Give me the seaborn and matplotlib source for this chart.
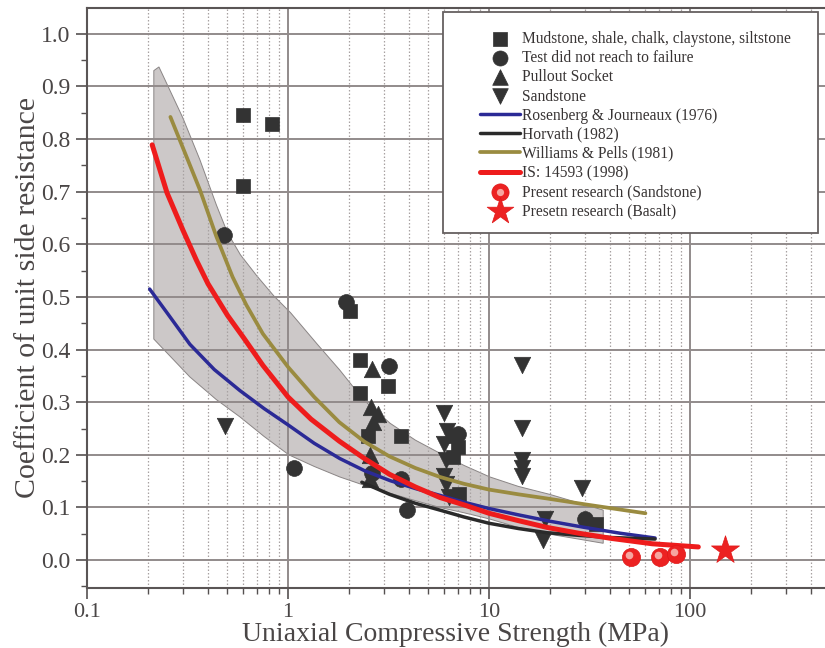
import numpy as np
import matplotlib
matplotlib.use("Agg")
import matplotlib.pyplot as plt
import matplotlib.transforms as mtransforms
from matplotlib.patches import Rectangle
from matplotlib.ticker import LogLocator, FixedLocator, MultipleLocator, FuncFormatter
from matplotlib.legend_handler import HandlerTuple
import seaborn as sns

# ---------------- data ----------------
mud_x = [0.6, 0.83, 0.6, 2.03, 2.28, 2.28, 3.14, 2.5, 3.65, 6.8, 7.0, 6.6, 7.1, 34]
mud_y = [0.846, 0.829, 0.711, 0.473, 0.38, 0.317, 0.331, 0.236, 0.236, 0.235, 0.215, 0.195, 0.125, 0.068]

nofail_x = [0.48, 1.94, 3.18, 1.07, 3.91, 2.62, 3.65, 7.0, 30]
nofail_y = [0.618, 0.49, 0.369, 0.175, 0.095, 0.165, 0.155, 0.24, 0.078]

pullout_x = [2.62, 2.6, 2.8, 2.65, 2.55, 2.55]
pullout_y = [0.363, 0.29, 0.278, 0.262, 0.2, 0.155]

sand_x = [0.486, 6.0, 6.2, 6.0, 6.1, 6.0, 6.1, 6.3, 14.6, 14.6, 14.6, 14.6, 14.6, 29, 19, 18.5]
sand_y = [0.255, 0.28, 0.245, 0.22, 0.19, 0.16, 0.145, 0.12, 0.371, 0.251, 0.19, 0.175, 0.16, 0.137, 0.078, 0.038]

present_sand_x = [51, 71, 85]
present_sand_y = [0.006, 0.006, 0.011]

present_basalt_x = [149]
present_basalt_y = [0.019]

rosenberg_x = [0.205, 0.25, 0.325, 0.43, 0.577, 0.76, 1.0, 1.35, 1.81, 2.4, 3.22, 4.3, 5.7, 7.5, 10, 14, 20, 30, 45, 67]
rosenberg_y = [0.515, 0.47, 0.41, 0.362, 0.322, 0.288, 0.257, 0.222, 0.193, 0.17, 0.151, 0.136, 0.123, 0.11, 0.098, 0.086, 0.074, 0.062, 0.051, 0.042]

horvath_x = [2.33, 3.2, 4.3, 5.7, 7.5, 10, 14, 19.5, 28, 40, 67]
horvath_y = [0.148, 0.125, 0.108, 0.095, 0.082, 0.07, 0.06, 0.052, 0.047, 0.043, 0.04]

williams_x = [0.26, 0.31, 0.365, 0.44, 0.53, 0.62, 0.75, 1.0, 1.35, 1.8, 2.4, 3.2, 4.3, 5.7, 7.5, 10, 14, 19.5, 30, 45, 60]
williams_y = [0.842, 0.77, 0.703, 0.615, 0.538, 0.485, 0.43, 0.367, 0.31, 0.262, 0.225, 0.197, 0.175, 0.158, 0.145, 0.134, 0.125, 0.117, 0.106, 0.096, 0.089]

is14593_x = [0.211, 0.25, 0.30, 0.35, 0.4, 0.5, 0.6, 0.75, 1.0, 1.3, 1.8, 2.4, 3.2, 4.3, 5.7, 7.5, 10, 14, 19.5, 28, 41, 65, 110]
is14593_y = [0.789, 0.698, 0.627, 0.57, 0.525, 0.465, 0.423, 0.37, 0.31, 0.268, 0.226, 0.193, 0.163, 0.139, 0.119, 0.105, 0.089, 0.075, 0.062, 0.051, 0.041, 0.031, 0.025]

band_upper_x = [0.215, 0.228, 0.30, 0.365, 0.44, 0.5, 0.58, 0.7, 0.85, 1.03, 1.4, 1.81, 2.37, 3.22, 4.3, 5.7, 7.5, 10.1, 14, 20, 37]
band_upper_y = [0.93, 0.937, 0.84, 0.76, 0.675, 0.622, 0.58, 0.54, 0.502, 0.47, 0.41, 0.361, 0.305, 0.26, 0.228, 0.203, 0.18, 0.158, 0.14, 0.125, 0.095]
band_lower_x = [0.215, 0.325, 0.44, 0.577, 0.76, 1.01, 1.35, 1.81, 2.4, 3.22, 4.3, 5.7, 7.5, 10.1, 14, 19.5, 37]
band_lower_y = [0.42, 0.348, 0.305, 0.272, 0.235, 0.2, 0.178, 0.158, 0.142, 0.127, 0.113, 0.1, 0.09, 0.078, 0.062, 0.05, 0.032]

x_ticks = [0.1, 1, 10, 100]
x_tick_labels = ["0.1", "1", "10", "100"]
y_ticks = [0.0, 0.1, 0.2, 0.3, 0.4, 0.5, 0.6, 0.7, 0.8, 0.9, 1.0]

labels = ["Mudstone, shale, chalk, claystone, siltstone",
          "Test did not reach to failure",
          "Pullout Socket",
          "Sandstone",
          "Rosenberg & Journeaux (1976)",
          "Horvath (1982)",
          "Williams & Pells (1981)",
          "IS: 14593 (1998)",
          "Present research (Sandstone)",
          "Presetn research (Basalt)"]

# ---------------- style ----------------
sns.set_style("white")
plt.rcParams["font.family"] = ["Liberation Serif", "DejaVu Serif"]

fig = plt.figure(figsize=(8.25, 6.48), dpi=100)
ax = fig.add_axes([87 / 825, 60 / 648, 1 - 87 / 825, 580 / 648])

mk_col = "#333333"
tri_size = 140
sq_size = 110

# confidence band
poly_x = np.concatenate([band_upper_x, band_lower_x[::-1]])
poly_y = np.concatenate([band_upper_y, band_lower_y[::-1]])
ax.fill(poly_x, poly_y, facecolor="#ccc8c8", edgecolor="#8a8585", lw=0.7, zorder=0.3)

# curves
sns.lineplot(x=rosenberg_x, y=rosenberg_y, ax=ax, color="#2b2a96", lw=2.5, sort=False,
             estimator=None, zorder=3, label=labels[4])
sns.lineplot(x=horvath_x, y=horvath_y, ax=ax, color="#2a2a2a", lw=2.5, sort=False,
             estimator=None, zorder=3, label=labels[5])
sns.lineplot(x=williams_x, y=williams_y, ax=ax, color="#9a8b40", lw=2.7, sort=False,
             estimator=None, zorder=3, label=labels[6])
sns.lineplot(x=is14593_x, y=is14593_y, ax=ax, color="#ee1c1c", lw=3.6, sort=False,
             estimator=None, zorder=3.2, label=labels[7])

# data markers
sns.scatterplot(x=mud_x, y=mud_y, ax=ax, marker="s", s=sq_size, color=mk_col,
                edgecolor=mk_col, linewidth=0.5, zorder=2.5, label=labels[0])
sns.scatterplot(x=nofail_x, y=nofail_y, ax=ax, marker="o", s=sq_size + 20, color=mk_col,
                edgecolor=mk_col, linewidth=0.5, zorder=2.5, label=labels[1])
sns.scatterplot(x=pullout_x, y=pullout_y, ax=ax, marker="^", s=tri_size, color=mk_col,
                edgecolor=mk_col, linewidth=0.5, zorder=2.5, label=labels[2])
sns.scatterplot(x=sand_x, y=sand_y, ax=ax, marker="v", s=tri_size, color=mk_col,
                edgecolor=mk_col, linewidth=0.5, zorder=2.5, label=labels[3])

sns.scatterplot(x=present_sand_x, y=present_sand_y, ax=ax, marker="o", s=170, color="#ec2222",
                edgecolor="#e01818", linewidth=0.5, zorder=4, label=labels[8])
offset = mtransforms.ScaledTranslation(-1.5 / 72, 1.5 / 72, fig.dpi_scale_trans)
hl = ax.scatter(present_sand_x, present_sand_y, marker="o", s=30, color="#f6a6a0",
                linewidths=0, zorder=4.1, transform=ax.transData + offset)
sns.scatterplot(x=present_basalt_x, y=present_basalt_y, ax=ax, marker="*", s=450, color="#ec2222",
                edgecolor="#e01818", linewidth=0.5, zorder=4, label=labels[9])

# axes scales / limits
ax.set_xscale("log")
ax.set_xlim(0.1, 10 ** (np.log10(100) + (825 - 690) / 201))
ax.set_ylim(-0.053, 1.049)

ax.xaxis.set_major_locator(FixedLocator(x_ticks))
ax.xaxis.set_major_formatter(FuncFormatter(lambda v, p: x_tick_labels[x_ticks.index(v)] if v in x_ticks else ""))
ax.xaxis.set_minor_locator(LogLocator(base=10, subs=np.arange(2, 10), numticks=20))
ax.xaxis.set_minor_formatter(FuncFormatter(lambda v, p: ""))
ax.yaxis.set_major_locator(FixedLocator(y_ticks))
ax.yaxis.set_major_formatter(FuncFormatter(lambda v, p: f"{v:.1f}"))
ax.yaxis.set_minor_locator(MultipleLocator(0.05))

ax.set_axisbelow(True)
ax.grid(which="major", axis="both", color="#928b8b", lw=1.4, ls="-")
ax.grid(which="minor", axis="x", color="#a8a2a2", lw=0.9, ls=(0, (1.2, 1.6)))

tick_col = "#555050"
ax.tick_params(which="major", direction="out", length=8, width=1.2, color=tick_col,
               labelsize=17, labelcolor="#4a4646")
ax.tick_params(axis="x", which="major", pad=3, labelsize=16)
ax.tick_params(axis="y", which="major", pad=4)
ax.tick_params(which="minor", direction="out", length=4.5, width=1.0, color=tick_col)
ax.tick_params(axis="x", which="both", bottom=True, top=False)
ax.tick_params(axis="y", which="both", left=True, right=False)

for side in ["left", "bottom", "top"]:
    ax.spines[side].set_color("#5a5555")
    ax.spines[side].set_linewidth(1.5)
    ax.spines[side].set_visible(True)
ax.spines["right"].set_visible(False)

xl = ax.set_xlabel("Uniaxial Compressive Strength (MPa)", fontsize=20, color="#4a4646")
xl.set_verticalalignment("baseline")
ax.set_ylabel("Coefficient of unit side resistance", fontsize=21.5, color="#4a4646")
ax.xaxis.set_label_coords(0.5, -0.0922)
ax.yaxis.set_label_coords(-0.062, 0.5)

# legend
ax.add_patch(Rectangle((0.4824, 0.612), 0.9905 - 0.4824, 0.993 - 0.612, transform=ax.transAxes,
                       facecolor="white", edgecolor="#666060", lw=1.3, zorder=4.5))
handles, labs = ax.get_legend_handles_labels()
order = {l: i for i, l in enumerate(labs)}
hs = [handles[order[l]] for l in labels]
hs[8] = (hs[8], hl)
leg = ax.legend(hs, labels, loc="upper left", bbox_to_anchor=(0.5325, 0.96), frameon=False,
                fontsize=11.2, handlelength=2.56, handletextpad=0.15, labelspacing=0.2,
                borderpad=0, borderaxespad=0, markerscale=0.95,
                handler_map={tuple: HandlerTuple(ndivide=1)})
leg.set_zorder(5)
for t in leg.get_texts():
    t.set_color("#383434")

fig.savefig("out.png", dpi=100)
